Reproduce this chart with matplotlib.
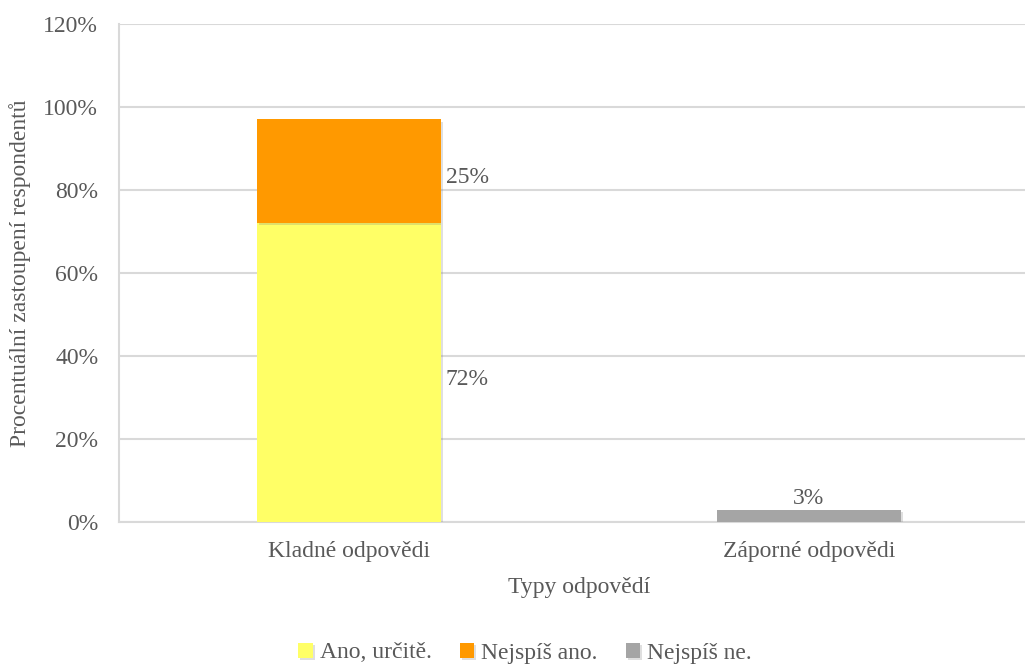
import matplotlib
matplotlib.use("Agg")
import matplotlib.pyplot as plt
import matplotlib.patheffects as pe
from matplotlib.ticker import FuncFormatter
import numpy as np

categories = ["Kladné odpovědi", "Záporné odpovědi"]
series_names = ["Ano, určitě.", "Nejspíš ano.", "Nejspíš ne."]
ano_urcite = [72, 0]
nejspis_ano = [25, 0]
nejspis_ne = [0, 3]
colors = ["#FFFF66", "#FF9900", "#A5A5A5"]

plt.rcParams['font.family'] = ['Liberation Serif', 'DejaVu Serif']
txt = "#595959"
fs = 17

fig = plt.figure(figsize=(10.25, 6.64), dpi=100)
ax = fig.add_axes([119/1025, 1-522/664, 920/1025, 498/664])

x = np.arange(len(categories))
w = 0.4
shadow = [pe.SimplePatchShadow(offset=(1.5, -1.5), alpha=0.25, shadow_rgbFace="#808080"), pe.Normal()]
bottom = np.zeros(len(categories))
bars_all = []
for name, vals, c in zip(series_names, [ano_urcite, nejspis_ano, nejspis_ne], colors):
    vals = np.array(vals, dtype=float)
    bars = ax.bar(x, vals, w, bottom=bottom, color=c, label=name, zorder=3)
    for b in bars:
        b.set_path_effects(shadow)
    bars_all.append((bars, vals, bottom.copy()))
    bottom = bottom + vals

# data labels
b0, v0, bt0 = bars_all[0]
ax.text(x[0] + w/2 + 0.01, bt0[0] + v0[0]/2 - 1.6, f"{int(v0[0])}%", ha="left", va="center",
        fontsize=fs, color=txt)
b1, v1, bt1 = bars_all[1]
ax.text(x[0] + w/2 + 0.01, bt1[0] + v1[0]/2 - 1.6, f"{int(v1[0])}%", ha="left", va="center",
        fontsize=fs, color=txt)
b2, v2, bt2 = bars_all[2]
ax.text(x[1], bt2[1] + v2[1] + 0.2, f"{int(v2[1])}%", ha="center", va="bottom",
        fontsize=fs, color=txt)

ax.set_xlim(-0.5, 1.5)
ax.set_ylim(0, 120)
ax.set_yticks(np.arange(0, 121, 20))
ax.yaxis.set_major_formatter(FuncFormatter(lambda v, p: f"{int(v)}%"))
ax.set_xticks(x)
ax.set_xticklabels(categories)
ax.grid(axis="y", color="#D9D9D9", linewidth=1.5, zorder=0)
ax.set_axisbelow(True)
for s in ["top", "right"]:
    ax.spines[s].set_visible(False)
ax.spines["left"].set_color("#D9D9D9")
ax.spines["left"].set_linewidth(1.5)
ax.spines["bottom"].set_color("#D9D9D9")
ax.spines["bottom"].set_linewidth(1.5)
ax.tick_params(axis="both", length=0, labelsize=fs, colors=txt)
ax.tick_params(axis="y", pad=15)
ax.tick_params(axis="x", pad=14)

ax.set_xlabel("Typy odpovědí", fontsize=fs, color=txt)
ax.xaxis.set_label_coords(0.5, -(587-522)/498)
ax.xaxis.label.set_va("center")
ax.yaxis.set_label_coords(-(119-20)/920, 0.5)
ax.set_ylabel("Procentuální zastoupení respondentů", fontsize=fs, color=txt)
ax.yaxis.label.set_va("center")

leg = fig.legend(loc="center", bbox_to_anchor=(525/1025, 1-653/664), ncol=3, frameon=False,
                 fontsize=fs, handlelength=0.6, handleheight=0.6, handletextpad=0.3,
                 columnspacing=1.2, labelcolor=txt)

fig.savefig("out.png", dpi=100)
